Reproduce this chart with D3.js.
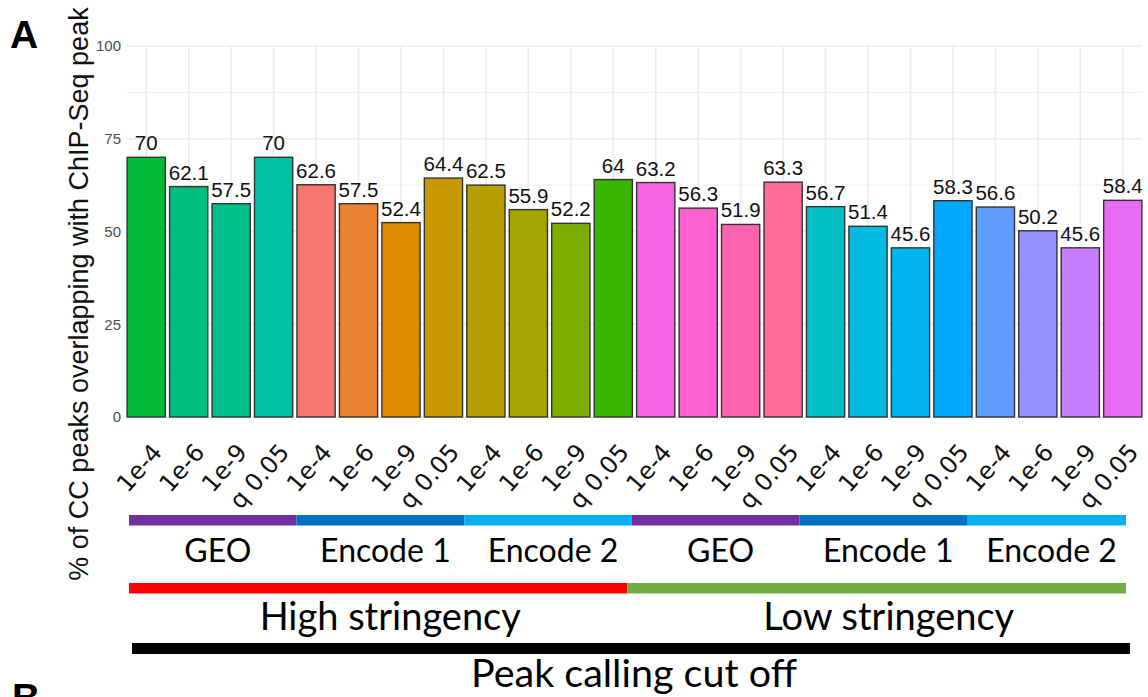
<!DOCTYPE html>
<html>
<head>
<meta charset="utf-8">
<script src="https://cdn.jsdelivr.net/npm/d3@7"></script>
<style>
  body { margin: 0; background: #fff; }
  svg { display: block; }
</style>
</head>
<body>
<svg id="chart" width="1148" height="697"></svg>
<script>
// Share of CC peaks overlapping a ChIP-Seq peak, for each peak-calling cut-off
const cutoffs = [
  "1e-4", "1e-6", "1e-9", "q 0.05",
  "1e-4", "1e-6", "1e-9", "q 0.05",
  "1e-4", "1e-6", "1e-9", "q 0.05",
  "1e-4", "1e-6", "1e-9", "q 0.05",
  "1e-4", "1e-6", "1e-9", "q 0.05",
  "1e-4", "1e-6", "1e-9", "q 0.05"
];
const overlapPct = [
  70, 62.1, 57.5, 70,
  62.6, 57.5, 52.4, 64.4,
  62.5, 55.9, 52.2, 64,
  63.2, 56.3, 51.9, 63.3,
  56.7, 51.4, 45.6, 58.3,
  56.6, 50.2, 45.6, 58.4
];
const yTicks = [0, 25, 50, 75, 100];
const yMinorTicks = [12.5, 37.5, 62.5, 87.5];
const sourceLabels = ["GEO", "Encode 1", "Encode 2", "GEO", "Encode 1", "Encode 2"];
const stringencyLabels = ["High stringency", "Low stringency"];
const yTitle = "% of CC peaks overlapping with ChIP-Seq peak";
const xCaption = "Peak calling cut off";

// Fill per bar (hue palette, one colour per dataset/cut-off)
const barColors = [
  "#00BA38", "#00BF7D", "#00C08B", "#00C1A3",
  "#F8766D", "#EA8331", "#DE8C00", "#C99800",
  "#B79F00", "#A3A500", "#7CAE00", "#39B600",
  "#F564E3", "#FD61D1", "#FF64B0", "#FF6A98",
  "#00BFC4", "#00BAE0", "#00B4F0", "#00A9FF",
  "#619CFF", "#9590FF", "#C77CFF", "#E76BF3"
];
const sourceColors = ["#7030A0", "#0070C0", "#00B0F0"];
const stringencyColors = ["#FF0000", "#70AD47"];

const W = 1148, H = 697;
const sans = "'Liberation Sans', Arial, Helvetica, sans-serif";
const office = "Lato, 'Open Sans', sans-serif";

const svg = d3.select("#chart");
svg.append("rect").attr("width", W).attr("height", H).attr("fill", "#fff");

const panel = { left: 125, right: 1144, top: 46, bottom: 417 };

const x = d3.scaleBand()
  .domain(d3.range(overlapPct.length))
  .range([panel.left, panel.right])
  .paddingInner(0.1)
  .paddingOuter(0.05);
const y = d3.scaleLinear().domain([0, 100]).range([panel.bottom, panel.top]);
const bw = x.bandwidth();
const gridL = x(0), gridR = x(overlapPct.length - 1) + bw;

// grid
const grid = svg.append("g").attr("stroke", "#EBEBEB").attr("fill", "none");
grid.selectAll(".minor").data(yMinorTicks).join("line")
  .attr("x1", gridL).attr("x2", gridR)
  .attr("y1", d => y(d)).attr("y2", d => y(d))
  .attr("stroke-width", 0.9);
grid.selectAll(".major").data(yTicks).join("line")
  .attr("x1", gridL).attr("x2", gridR)
  .attr("y1", d => y(d)).attr("y2", d => y(d))
  .attr("stroke-width", 1.5);
grid.selectAll(".vert").data(d3.range(overlapPct.length)).join("line")
  .attr("x1", d => x(d) + bw / 2).attr("x2", d => x(d) + bw / 2)
  .attr("y1", y(100)).attr("y2", y(0))
  .attr("stroke-width", 1.5);

// bars
svg.append("g").selectAll("rect").data(overlapPct).join("rect")
  .attr("x", (d, i) => x(i))
  .attr("y", d => y(d))
  .attr("width", bw)
  .attr("height", d => y(0) - y(d))
  .attr("fill", (d, i) => barColors[i])
  .attr("stroke", "#333")
  .attr("stroke-width", 1.4);

// value labels
svg.append("g").selectAll("text").data(overlapPct).join("text")
  .attr("x", (d, i) => x(i) + bw / 2)
  .attr("y", d => y(d) - 7)
  .attr("text-anchor", "middle")
  .attr("font-family", sans)
  .attr("font-size", 20.5)
  .attr("fill", "#111")
  .text(d => d);

// y axis
const yAxis = svg.append("g")
  .attr("transform", `translate(${panel.left + 2},0)`)
  .call(d3.axisLeft(y).tickValues(yTicks).tickSize(0).tickPadding(6));
yAxis.select(".domain").remove();
yAxis.selectAll("text")
  .attr("font-family", sans).attr("font-size", 15).attr("fill", "#4D4D4D");

// x axis
const xAxis = svg.append("g")
  .attr("transform", `translate(0,${panel.bottom})`)
  .call(d3.axisBottom(x).tickSize(0).tickFormat(i => cutoffs[i]));
xAxis.select(".domain").remove();
xAxis.selectAll("text")
  .attr("x", 0).attr("y", 0).attr("dy", 0)
  .attr("transform", "translate(17,36) rotate(-49)")
  .attr("text-anchor", "end")
  .attr("font-family", "'DejaVu Sans', Verdana, sans-serif")
  .attr("font-size", 24)
  .attr("fill", "#111");

// y title
svg.append("text")
  .attr("transform", "translate(88,294) rotate(-90)")
  .attr("text-anchor", "middle")
  .attr("font-family", sans)
  .attr("font-size", 27)
  .attr("fill", "#111")
  .text(yTitle);

// panel letters
svg.append("text").attr("x", 10).attr("y", 48)
  .attr("font-family", sans).attr("font-weight", "bold").attr("font-size", 39)
  .text("A");
svg.append("text").attr("x", 12).attr("y", 711)
  .attr("font-family", sans).attr("font-weight", "bold").attr("font-size", 39)
  .text("B");

// grouping annotation below the axis
const ann = d3.scaleLinear().domain([0, 20, 24]).range([129, 967, 1126]);
const perSource = 4;
sourceLabels.forEach((lab, g) => {
  const x0 = ann(g * perSource), x1 = ann((g + 1) * perSource);
  svg.append("rect").attr("x", x0).attr("y", 515).attr("width", x1 - x0).attr("height", 10.5)
    .attr("fill", sourceColors[g % sourceColors.length]);
  svg.append("text").attr("x", (x0 + x1) / 2 + 5).attr("y", 562)
    .attr("text-anchor", "middle").attr("font-family", office).attr("font-size", 32)
    .attr("fill", "#000").text(lab);
});

const annS = d3.scaleLinear().domain([0, stringencyLabels.length]).range([129, 1126]);
stringencyLabels.forEach((lab, g) => {
  const x0 = annS(g), x1 = annS(g + 1);
  svg.append("rect").attr("x", x0).attr("y", 583).attr("width", x1 - x0).attr("height", 10.5)
    .attr("fill", stringencyColors[g]);
  svg.append("text").attr("x", (x0 + x1) / 2 + 12).attr("y", 630)
    .attr("text-anchor", "middle").attr("font-family", office).attr("font-size", 38)
    .attr("fill", "#000").text(lab);
});

svg.append("rect").attr("x", 132).attr("y", 643).attr("width", 1130 - 132).attr("height", 11)
  .attr("fill", "#000");
svg.append("text").attr("x", 634).attr("y", 687)
  .attr("text-anchor", "middle").attr("font-family", office).attr("font-size", 39.5)
  .attr("fill", "#000").text(xCaption);
</script>
</body>
</html>
